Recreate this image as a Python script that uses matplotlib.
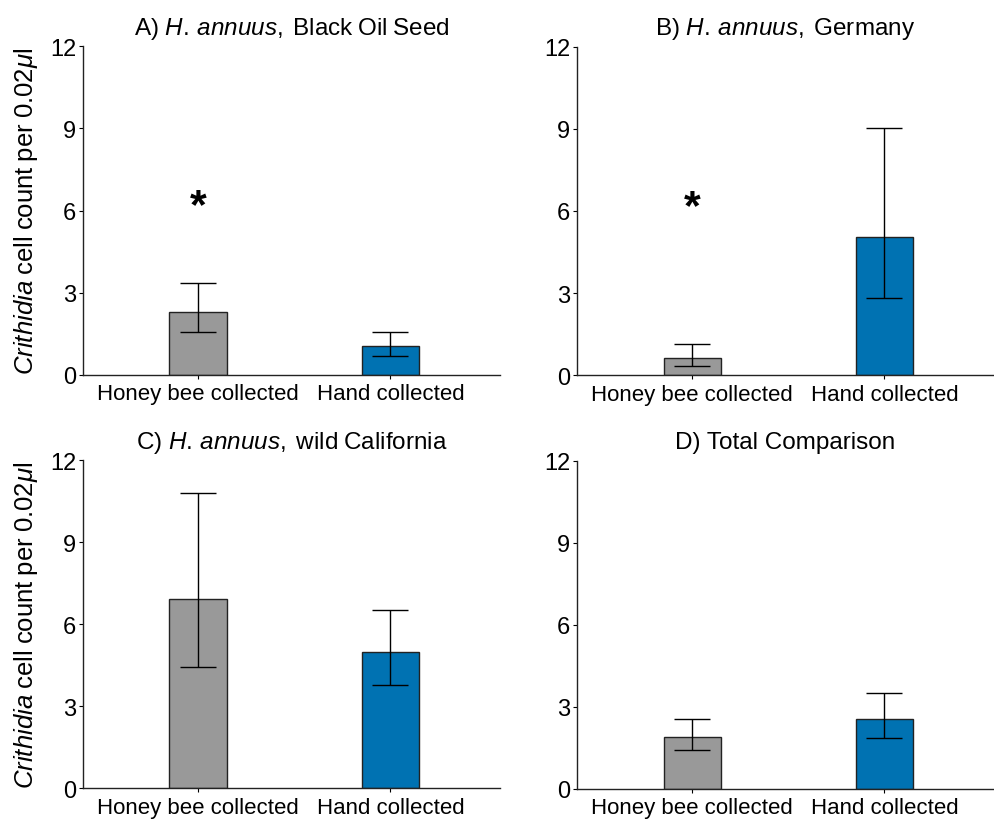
import matplotlib
matplotlib.use('Agg')
import matplotlib.pyplot as plt

plt.rcParams['font.family'] = ['Liberation Sans', 'DejaVu Sans']
plt.rcParams['mathtext.fontset'] = 'custom'
plt.rcParams['mathtext.rm'] = 'Liberation Sans'
plt.rcParams['mathtext.it'] = 'Liberation Sans:italic'

# -------------------------------
# DATA
# -------------------------------
groups = ['Honey bee collected', 'Hand collected']
titles = [r'$\mathrm{A)\ }\mathit{H.\,annuus,}\mathrm{\;Black\;Oil\;Seed}$',
          r'$\mathrm{B)\ }\mathit{H.\,annuus,}\mathrm{\;Germany}$',
          r'$\mathrm{C)\ }\mathit{H.\,annuus,}\mathrm{\;wild\;California}$',
          'D) Total Comparison']

means = [[2.28, 1.04], [0.62, 5.04], [6.93, 4.97], [1.89, 2.54]]
upper = [[3.34, 1.55], [1.13, 9.01], [10.82, 6.52], [2.56, 3.49]]
lower = [[1.56, 0.69], [0.33, 2.81], [4.44, 3.78], [1.40, 1.84]]
stars = [True, True, False, False]
star_y = 6.15

colors = ['#999999', '#0072B2']
ylabel = r'$\mathit{Crithidia}\mathrm{\;cell\;count\;per\;0.02}\mathit{\mu}\mathrm{l}$'

# axes positions [left, bottom, width, height] in figure fractions
positions = [[0.0834, 0.5415, 0.419, 0.401],
             [0.580, 0.5410, 0.419, 0.401],
             [0.0834, 0.0374, 0.419, 0.400],
             [0.580, 0.0370, 0.419, 0.400]]

fig = plt.figure(figsize=(9.95, 8.2), dpi=100)

for i in range(4):
    ax = fig.add_axes(positions[i])
    x = [0, 1]
    ax.bar(x, means[i], width=0.3, color=colors, edgecolor='#222222', linewidth=1.0, zorder=2)
    yerr = [[m - l for m, l in zip(means[i], lower[i])],
            [u - m for m, u in zip(means[i], upper[i])]]
    ax.errorbar(x, means[i], yerr=yerr, fmt='none', ecolor='black',
                elinewidth=1.0, capsize=13, capthick=1.0, zorder=3)
    if stars[i]:
        ax.text(0, star_y, '*', ha='center', va='center', fontsize=31, fontweight='bold')

    ax.set_xlim(-0.6, 1.57)
    ax.set_ylim(0, 12)
    ax.set_yticks([0, 3, 6, 9, 12])
    ax.set_xticks(x)
    ax.set_xticklabels(groups, fontsize=16)
    ax.tick_params(axis='y', labelsize=17, length=3, width=0.8, pad=2)
    ax.tick_params(axis='x', length=3, width=0.8, pad=3)
    for s in ['top', 'right']:
        ax.spines[s].set_visible(False)
    for s in ['left', 'bottom']:
        ax.spines[s].set_linewidth(1.0)
        ax.spines[s].set_color('#222222')
    ax.set_title(titles[i], fontsize=17.5, pad=9)
    if i in (0, 2):
        ax.set_ylabel(ylabel, fontsize=18.5, labelpad=7)

fig.savefig('out.png', dpi=100)
